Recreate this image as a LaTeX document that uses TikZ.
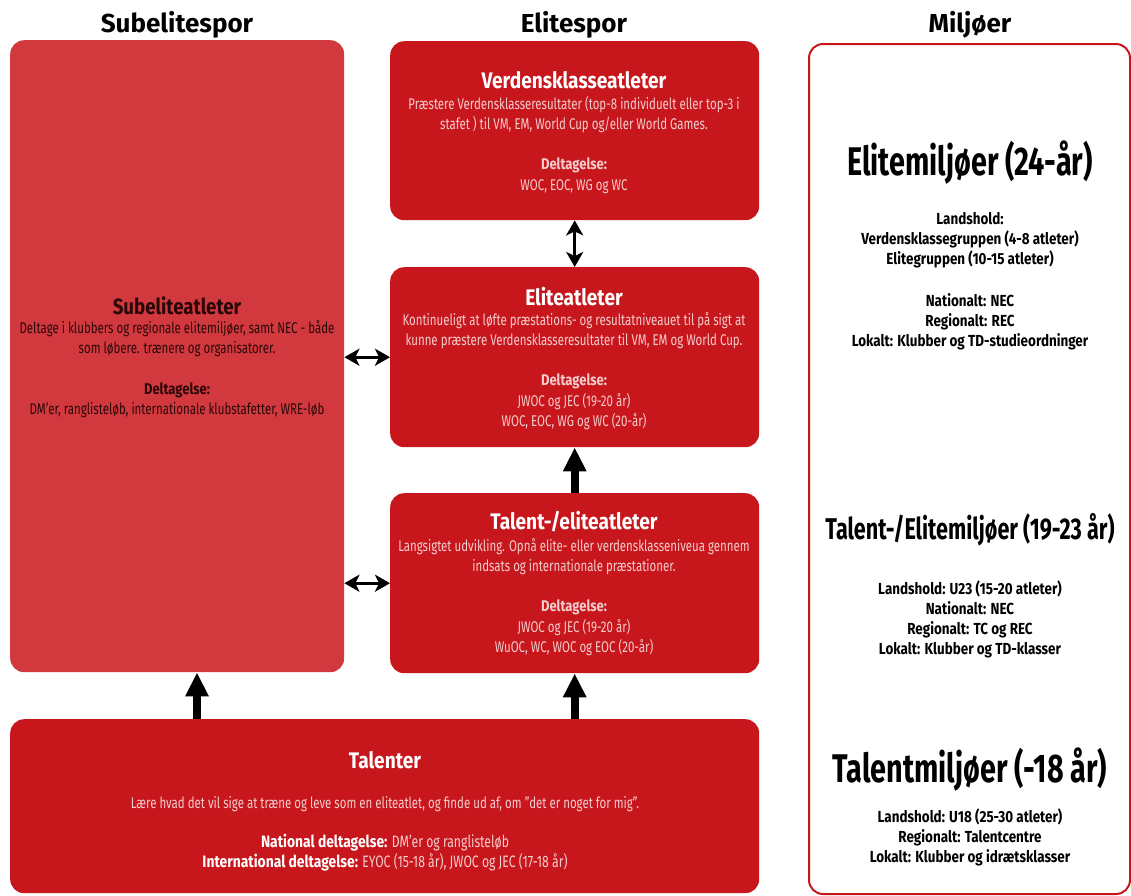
\documentclass[tikz,border=0pt]{standalone}
\usepackage{fontspec}
\setmainfont{Fira Sans}[FakeStretch=0.74]
\newfontfamily\hdrfont{Fira Sans}[FakeStretch=1.0]
\newfontfamily\ttlfont{Fira Sans}[FakeStretch=0.85]
\newfontfamily\envfont{Fira Sans}[FakeStretch=0.72]
\newfontfamily\bfam{Fira Sans}[FakeStretch=0.84]
\newcommand{\lbl}[1]{{\bfam\bfseries #1}}
\usetikzlibrary{arrows.meta}
\definecolor{dred}{HTML}{C8161D}
\definecolor{lred}{HTML}{D2393F}
\definecolor{pinktxt}{HTML}{F4CDCD}
\definecolor{darktxt}{HTML}{2A0708}
\begin{document}
\begin{tikzpicture}[x=1pt,y=-1pt,
  redbox/.style={fill=dred, rounded corners=14pt, inner sep=0pt, anchor=north west},
  subbox/.style={fill=lred, rounded corners=14pt, inner sep=0pt, anchor=north west},
  envbox/.style={draw=dred, line width=2pt, fill=white, rounded corners=14pt, inner sep=0pt, anchor=north west},
  hdr/.style={font=\hdrfont\bfseries\fontsize{26}{30}\selectfont, text=black},
  ttl/.style={font=\ttlfont\bfseries\fontsize{22.5}{26}\selectfont, text=white},
  bodytxt/.style={font=\fontsize{15.5}{20}\selectfont, text=pinktxt, align=center},
  delt/.style={font=\fontsize{15.5}{20.5}\selectfont, text=pinktxt, align=center},
  subttl/.style={font=\ttlfont\bfseries\fontsize{22}{26}\selectfont, text=darktxt},
  subbody/.style={font=\fontsize{15.5}{20}\selectfont, text=darktxt, align=center},
  bigenv/.style={font=\envfont\bfseries\fontsize{40}{44}\selectfont, text=black},
  midenv/.style={font=\envfont\bfseries\fontsize{30}{34}\selectfont, text=black},
  envtxt/.style={font=\bfam\bfseries\fontsize{16}{20}\selectfont, text=black, align=center},
  dbl/.style={{Stealth[length=15pt,width=17pt,inset=4pt]}-{Stealth[length=15pt,width=17pt,inset=4pt]}, line width=3pt, black},
  up/.style={-{Triangle[length=24pt,width=22pt]}, line width=8pt, black}
]
\useasboundingbox (0,0) rectangle (1131,895);

% headers
\node[hdr] (h1) at (177,25) {Subelitespor};
\node[hdr] (h2) at (574,25) {Elitespor};
\node[hdr] (h3) at (970,25) {Miljøer};

% boxes
\node[subbox, minimum width=334pt, minimum height=632pt] (sub) at (10,40) {};
\node[redbox, minimum width=369pt, minimum height=179pt] (vk) at (390,41) {};
\node[redbox, minimum width=369pt, minimum height=180pt] (el) at (390,267) {};
\node[redbox, minimum width=369pt, minimum height=180pt] (te) at (390,493) {};
\node[redbox, minimum width=749pt, minimum height=174pt] (tal) at (10,719) {};
\node[envbox, minimum width=321pt, minimum height=850pt] (env) at (808,43) {};

% Verdensklasseatleter
\node[ttl] (vkt) at (574,80) {Verdensklasseatleter};
\node[bodytxt] (vkb) at (574,115) {Præstere Verdensklasseresultater (top-8 individuelt eller top-3 i\\stafet ) til VM, EM, World Cup og/eller World Games.};
\node[delt] (vkd) at (574,176) {\lbl{Deltagelse:}\\WOC, EOC, WG og WC};

% Eliteatleter
\node[ttl] (elt) at (574,297) {Eliteatleter};
\node[bodytxt] (elb) at (574,331) {Kontinueligt at løfte præstations- og resultatniveauet til på sigt at\\kunne præstere Verdensklasseresultater til VM, EM og World Cup.};
\node[delt] (eld) at (574,402) {\lbl{Deltagelse:}\\JWOC og JEC (19-20 år)\\WOC, EOC, WG og WC (20-år)};

% Talent-/eliteatleter
\node[ttl] (tet) at (574,522) {Talent-/eliteatleter};
\node[bodytxt] (teb) at (574,557) {Langsigtet udvikling. Opnå elite- eller verdensklasseniveua gennem\\indsats og internationale præstationer.};
\node[delt] (ted) at (574,628) {\lbl{Deltagelse:}\\JWOC og JEC (19-20 år)\\WuOC, WC, WOC og EOC (20-år)};

% Subeliteatleter
\node[subttl] (subt) at (177,306) {Subeliteatleter};
\node[subbody] (subb) at (177,339) {Deltage i klubbers og regionale elitemiljøer, samt NEC - både\\som løbere. trænere og organisatorer.};
\node[subbody] (subd) at (177,400) {\lbl{Deltagelse:}\\DM'er, ranglisteløb, internationale klubstafetter, WRE-løb};

% Talenter
\node[ttl] (talt) at (385,760) {Talenter};
\node[bodytxt, font=\fontsize{15.5}{19}\selectfont] (talb) at (385,804) {Lære hvad det vil sige at træne og leve som en eliteatlet, og finde ud af, om "det er noget for mig".};
\node[bodytxt, font=\fontsize{16.5}{19.5}\selectfont] (tald) at (385,852.5) {\textcolor{white}{\lbl{National deltagelse:}} DM'er og ranglisteløb\\\textcolor{white}{\lbl{International deltagelse:}} EYOC (15-18 år), JWOC og JEC (17-18 år)};

% Miljøer
\node[bigenv] (e1) at (970,163) {Elitemiljøer (24-år)};
\node[envtxt] (e1a) at (970,240) {Landshold:\\Verdensklassegruppen (4-8 atleter)\\Elitegruppen (10-15 atleter)};
\node[envtxt] (e1b) at (970,322) {Nationalt: NEC\\Regionalt: REC\\Lokalt: Klubber og TD-studieordninger};
\node[midenv] (e2) at (970,530) {Talent-/Elitemiljøer (19-23 år)};
\node[envtxt] (e2a) at (970,619) {Landshold: U23 (15-20 atleter)\\Nationalt: NEC\\Regionalt: TC og REC\\Lokalt: Klubber og TD-klasser};
\node[bigenv] (e3) at (970,770) {Talentmiljøer (-18 år)};
\node[envtxt] (e3a) at (970,837) {Landshold: U18 (25-30 atleter)\\Regionalt: Talentcentre\\Lokalt: Klubber og idrætsklasser};

% connectors
\draw[dbl] (vk.south) -- (el.north);
\draw[dbl] (sub.east |- el.center) -- (el.west);
\draw[dbl] (sub.east |- te.center) -- (te.west);
\draw[up] (te.north) -- (el.south);
\draw[up] (tal.north -| te.center) -- (te.south);
\coordinate (subfoot) at (197,719);
\draw[up] (subfoot) -- (subfoot |- sub.south);
\end{tikzpicture}
\end{document}
